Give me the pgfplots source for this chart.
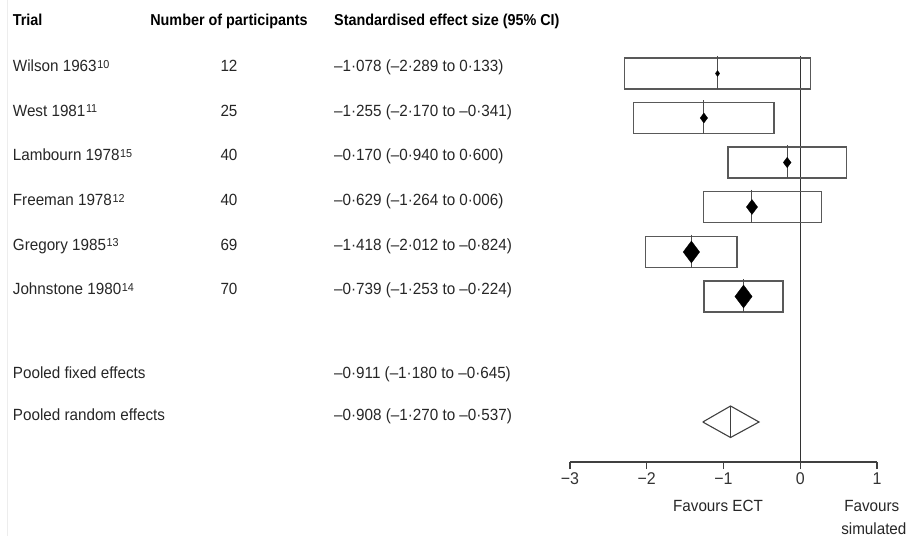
\documentclass[border=0pt]{standalone}
\usepackage{fontspec}
\setmainfont{Liberation Sans}
\newfontfamily\regfont{Liberation Sans}[FakeStretch=0.94]
\newfontfamily\headfont{Liberation Sans}[FakeStretch=0.91]
\usepackage{pgfplots}
\pgfplotsset{compat=1.18}
\newcommand\rowfont{\regfont\fontsize{16.2}{19}\selectfont}
\newcommand\hdfont{\headfont\bfseries\fontsize{15.8}{19}\selectfont}
\newcommand\sups[1]{\hspace{0.6pt}\raisebox{3.3pt}{\fontsize{11.5}{13}\selectfont #1}}
\tikzset{rt/.style={font=\rowfont, text=black!85, inner sep=0pt},
         ht/.style={font=\hdfont, text=black, inner sep=0pt}}
\begin{document}
\begin{tikzpicture}
\begin{axis}[
  scale only axis, width=307pt, height=462pt,
  xmin=-3, xmax=1, ymin=-462, ymax=0,
  axis x line=bottom, axis y line=none,
  x axis line style={-, draw=black!75, line width=1.1pt},
  xtick={-3,-2,-1,0,1}, xticklabels={−3,−2,−1,0,1},
  tick align=outside, major tick length=7pt,
  tick style={draw=black!75, line width=1.1pt},
  xticklabel style={font=\regfont\fontsize{17}{19}\selectfont, text=black!80},
  clip=false,
  box/.style={draw=black!65, line width=1.25pt, line cap=rect, line join=miter, mark=none},
  est/.style={draw=black!70, line width=1pt, mark=none},
  dm/.style={only marks, mark=diamond*, mark options={fill=black, draw=black, line width=0.3pt}},
]
% faint page border
\addplot[draw=black!7, line width=1.5pt, mark=none] coordinates {(-10.329,0) (-10.329,-536)};
% line of no effect
\addplot[draw=black!80, line width=1.1pt, mark=none] coordinates {(0,-56) (0,-462)};
% Wilson
\addplot[box] coordinates {(-2.289,-58) (0.133,-58) (0.133,-89) (-2.289,-89) (-2.289,-58)};
\addplot[est] coordinates {(-1.078,-56) (-1.078,-89)};
\addplot[dm, mark size=2.9] coordinates {(-1.078,-73.5)};
% West
\addplot[box] coordinates {(-2.170,-102.5) (-0.341,-102.5) (-0.341,-133.5) (-2.170,-133.5) (-2.170,-102.5)};
\addplot[est] coordinates {(-1.255,-100.5) (-1.255,-133.5)};
\addplot[dm, mark size=5] coordinates {(-1.255,-118)};
% Lambourn
\addplot[box] coordinates {(-0.940,-147) (0.600,-147) (0.600,-178) (-0.940,-178) (-0.940,-147)};
\addplot[est] coordinates {(-0.170,-145) (-0.170,-178)};
\addplot[dm, mark size=5.2] coordinates {(-0.170,-162.5)};
% Freeman (box drawn to 0.28 as in the figure)
\addplot[box] coordinates {(-1.264,-191.5) (0.279,-191.5) (0.279,-222.5) (-1.264,-222.5) (-1.264,-191.5)};
\addplot[est] coordinates {(-0.629,-189.5) (-0.629,-222.5)};
\addplot[dm, mark size=7.5] coordinates {(-0.629,-207)};
% Gregory
\addplot[box] coordinates {(-2.012,-236.5) (-0.824,-236.5) (-0.824,-267.5) (-2.012,-267.5) (-2.012,-236.5)};
\addplot[est] coordinates {(-1.418,-234.5) (-1.418,-267.5)};
\addplot[dm, mark size=11] coordinates {(-1.418,-252)};
% Johnstone
\addplot[box] coordinates {(-1.253,-281) (-0.224,-281) (-0.224,-312) (-1.253,-312) (-1.253,-281)};
\addplot[est] coordinates {(-0.739,-279) (-0.739,-312)};
\addplot[dm, mark size=11.5] coordinates {(-0.739,-296.5)};
% Pooled random effects
\addplot[draw=black!75, line width=1.1pt, line join=miter, mark=none] coordinates {(-1.270,-422) (-0.908,-406) (-0.537,-422) (-0.908,-437.5) (-1.270,-422)};
\addplot[draw=black!75, line width=1.1pt, mark=none] coordinates {(-0.908,-406) (-0.908,-437.5)};

% headers
\node[ht, anchor=base west] at (axis cs:-10.261,-26) {Trial};
\node[ht, anchor=base] at (axis cs:-7.443,-26) {Number of participants};
\node[ht, anchor=base west] at (axis cs:-6.075,-26) {Standardised effect size (95\% CI)};
% rows
\node[rt, anchor=base west] at (axis cs:-10.261,-71.7) {Wilson 1963\sups{10}};
\node[rt, anchor=base] at (axis cs:-7.443,-71.7) {12};
\node[rt, anchor=base west] at (axis cs:-6.075,-71.7) {–1·078 (–2·289 to 0·133)};
\node[rt, anchor=base west] at (axis cs:-10.261,-116.3) {West 1981\sups{11}};
\node[rt, anchor=base] at (axis cs:-7.443,-116.3) {25};
\node[rt, anchor=base west] at (axis cs:-6.075,-116.3) {–1·255 (–2·170 to –0·341)};
\node[rt, anchor=base west] at (axis cs:-10.261,-160.9) {Lambourn 1978\sups{15}};
\node[rt, anchor=base] at (axis cs:-7.443,-160.9) {40};
\node[rt, anchor=base west] at (axis cs:-6.075,-160.9) {–0·170 (–0·940 to 0·600)};
\node[rt, anchor=base west] at (axis cs:-10.261,-205.5) {Freeman 1978\sups{12}};
\node[rt, anchor=base] at (axis cs:-7.443,-205.5) {40};
\node[rt, anchor=base west] at (axis cs:-6.075,-205.5) {–0·629 (–1·264 to 0·006)};
\node[rt, anchor=base west] at (axis cs:-10.261,-250.1) {Gregory 1985\sups{13}};
\node[rt, anchor=base] at (axis cs:-7.443,-250.1) {69};
\node[rt, anchor=base west] at (axis cs:-6.075,-250.1) {–1·418 (–2·012 to –0·824)};
\node[rt, anchor=base west] at (axis cs:-10.261,-294.7) {Johnstone 1980\sups{14}};
\node[rt, anchor=base] at (axis cs:-7.443,-294.7) {70};
\node[rt, anchor=base west] at (axis cs:-6.075,-294.7) {–0·739 (–1·253 to –0·224)};
\node[rt, anchor=base west] at (axis cs:-10.261,-378.5) {Pooled fixed effects};
\node[rt, anchor=base west] at (axis cs:-6.075,-378.5) {–0·911 (–1·180 to –0·645)};
\node[rt, anchor=base west] at (axis cs:-10.261,-420) {Pooled random effects};
\node[rt, anchor=base west] at (axis cs:-6.075,-420) {–0·908 (–1·270 to –0·537)};
% favours
\node[rt, anchor=base] at (axis cs:-1.072,-511.7) {Favours ECT};
\node[rt, anchor=base] at (axis cs:0.933,-511.7) {Favours};
\node[rt, anchor=base] at (axis cs:0.959,-534) {simulated};
\coordinate (TL) at (axis cs:-10.4267,0);
\coordinate (BR) at (axis cs:1.456,-536);
\end{axis}
\pgfresetboundingbox
\path[use as bounding box] (TL) rectangle (BR);
\end{tikzpicture}
\end{document}
